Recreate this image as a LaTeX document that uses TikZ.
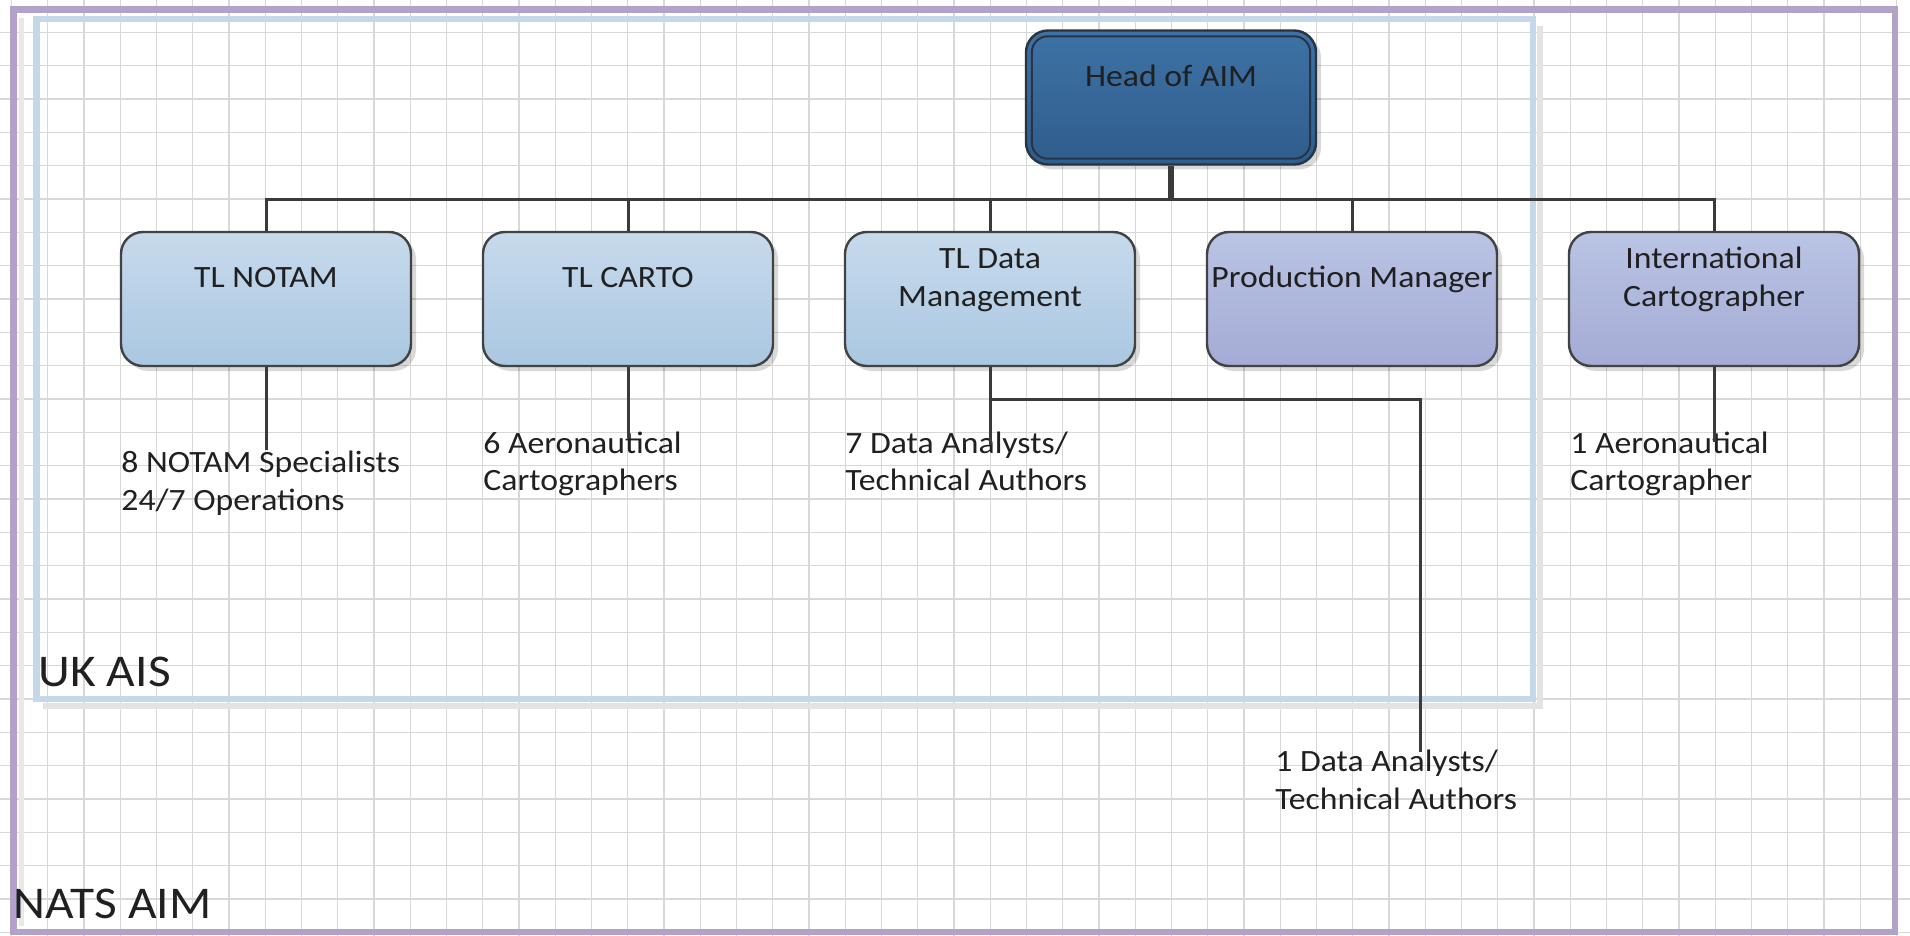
\documentclass[tikz,border=0pt]{standalone}
\usepackage{fontspec}
\setmainfont{Carlito}[FakeStretch=1.088]
\usetikzlibrary{shadows}
\definecolor{gridc}{RGB}{216,216,216}
\definecolor{purplef}{RGB}{178,162,202}
\definecolor{bluef}{RGB}{196,216,234}
\definecolor{linec}{RGB}{58,58,58}
\definecolor{txt}{RGB}{32,32,32}
\definecolor{lbtop}{RGB}{199,218,236}
\definecolor{lbbot}{RGB}{170,199,225}
\definecolor{pbtop}{RGB}{186,196,228}
\definecolor{pbbot}{RGB}{164,171,213}
\definecolor{hbtop}{RGB}{62,114,165}
\definecolor{hbbot}{RGB}{47,93,140}
\definecolor{hborder}{RGB}{40,52,68}
\definecolor{boxborder}{RGB}{66,66,66}
\begin{document}
\begin{tikzpicture}[x=0.5pt,y=-0.5pt,
  gridline/.style={draw=gridc,line width=0.6pt},
  orgbox/.style={rectangle,rounded corners=11pt,draw=boxborder,line width=1.2pt,
    minimum width=145pt,minimum height=67pt,inner sep=0pt,
    drop shadow={shadow xshift=2.5pt,shadow yshift=-2.5pt,opacity=0.15,fill=black}},
  lbox/.style={orgbox,top color=lbtop,bottom color=lbbot},
  pbox/.style={orgbox,top color=pbtop,bottom color=pbbot},
  hbox/.style={orgbox,draw=hborder,top color=hbtop,bottom color=hbbot},
  boxtxt/.style={inner sep=0pt,text=txt,align=center,font=\fontsize{15.5}{19}\selectfont},
  subtxt/.style={inner sep=0pt,text=txt,align=left,font=\fontsize{15.5}{18.8}\selectfont,anchor=base west},
  bigtxt/.style={inner sep=0pt,text=txt,anchor=base west,font=\fontsize{22.7}{27}\selectfont},
  conn/.style={draw=linec,line width=1.5pt},
  headconn/.style={draw=linec,line width=3pt}]
\useasboundingbox (0,0) rectangle (1910,936);
\fill[white] (0,0) rectangle (1910,936);
% grid
\foreach \i in {0,...,52} \draw[gridline] ({11.55+36.25*\i},0) -- ({11.55+36.25*\i},936);
\foreach \j in {1,...,28} \draw[gridline] (0,{33.33*\j-1}) -- (1910,{33.33*\j-1});
% frames
\draw[black!11,line width=3pt] (1540,26) -- (1540,706) -- (43,706);
\draw[black!9,line width=2.5pt] (21,18) -- (21,926);
\draw[bluef,line width=3.2pt] (36.4,19) rectangle (1533,699);
\draw[purplef,line width=3.2pt] (13.4,9.5) rectangle (1895,932);
\node[bigtxt] (ukais) at (38,686) {UK AIS};
\node[bigtxt] (nats) at (13.4,918) {NATS AIM};
% boxes
\node[hbox] (head) at (1171,97.5) {};
\draw[hborder,line width=1pt,rounded corners=8pt] ([shift={(7,7)}]head.north west) rectangle ([shift={(-7,-7)}]head.south east);
\node[lbox] (notam) at (266,299) {};
\node[lbox] (carto) at (628,299) {};
\node[lbox] (tldata) at (990,299) {};
\node[pbox] (prod) at (1352,299) {};
\node[pbox] (intl) at (1714,299) {};
% box labels
\node[boxtxt,anchor=base] (headL) at ([shift={(0,57)}]head.north) {Head of AIM};
\node[boxtxt,anchor=base] (notamL) at ([shift={(0,57)}]notam.north) {TL NOTAM};
\node[boxtxt,anchor=base] (cartoL) at ([shift={(0,57)}]carto.north) {TL CARTO};
\node[boxtxt,anchor=base] (tldataL) at ([shift={(0,76)}]tldata.north) {TL Data\\Management};
\node[boxtxt,anchor=base] (prodL) at ([shift={(0,57)}]prod.north) {Production Manager};
\node[boxtxt,anchor=base] (intlL) at ([shift={(0,76)}]intl.north) {International\\Cartographer};
% connectors
\coordinate (bus) at (1171,199.5);
\draw[headconn] (head.south) -- (bus);
\draw[conn] (notam.north) -- (notam.north |- bus) -- (intl.north |- bus) -- (intl.north);
\draw[conn] (carto.north) -- (carto.north |- bus);
\draw[conn] (tldata.north) -- (tldata.north |- bus);
\draw[conn] (prod.north) -- (prod.north |- bus);
% sub labels (anchored at the baseline of the last line)
\node[subtxt] (notamS) at (121,510.3) {8 NOTAM Specialists\\24/7 Operations};
\node[subtxt] (cartoS) at (483,490.6) {6 Aeronautical\\Cartographers};
\node[subtxt] (dataS) at (845,490.6) {7 Data Analysts/\\Technical Authors};
\node[subtxt] (intlS) at (1570,490.6) {1 Aeronautical\\Cartographer};
\node[subtxt] (data2S) at (1275,809.3) {1 Data Analysts/\\Technical Authors};
\coordinate (notamE) at (266,450);
\coordinate (cartoE) at (628,438);
\coordinate (dataE) at (990,445);
\coordinate (intlE) at (1714,442);
\coordinate (branch) at (990,399.3);
\coordinate (data2E) at (1420,752);
\draw[conn] (notam.south) -- (notamE);
\draw[conn] (carto.south) -- (cartoE);
\draw[conn] (tldata.south) -- (dataE);
\draw[conn] (intl.south) -- (intlE);
\draw[conn] (branch) -| (data2E);
\end{tikzpicture}
\end{document}
